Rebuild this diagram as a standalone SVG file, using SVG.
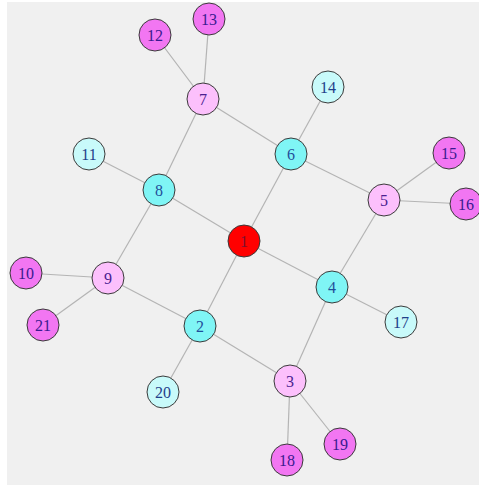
<svg xmlns="http://www.w3.org/2000/svg" width="479" height="485" viewBox="0 0 479 485">
<style>
.e{stroke:#b4b4b4;stroke-width:1.2;fill:none}
circle{stroke:#3a3a3a;stroke-width:1}
text{font-family:"Liberation Serif","Times New Roman",serif;font-size:16px;text-anchor:middle;dominant-baseline:central}
.r circle{fill:#ff0000}.r text{fill:#7a1030}
.c circle{fill:#7ff5f5}.c text{fill:#1f4f9a}
.lc circle{fill:#c8fafa}.lc text{fill:#1f3f8a}
.p circle{fill:#fcc0fc}.p text{fill:#4a2090}
.m circle{fill:#f276f2}.m text{fill:#3a1a90}
</style>
<rect width="479" height="485" fill="#ffffff"/>
<rect x="7" y="2" width="472" height="483" fill="#f0f0f0"/>
<g id="edges">
<line class="e" x1="244" y1="241" x2="159" y2="190"/>
<line class="e" x1="244" y1="241" x2="291" y2="154"/>
<line class="e" x1="244" y1="241" x2="332" y2="287"/>
<line class="e" x1="244" y1="241" x2="200" y2="326"/>
<line class="e" x1="203" y1="99" x2="159" y2="190"/>
<line class="e" x1="203" y1="99" x2="291" y2="154"/>
<line class="e" x1="203" y1="99" x2="155" y2="35"/>
<line class="e" x1="203" y1="99" x2="209" y2="19"/>
<line class="e" x1="159" y1="190" x2="89" y2="154"/>
<line class="e" x1="159" y1="190" x2="108" y2="278"/>
<line class="e" x1="291" y1="154" x2="328" y2="87"/>
<line class="e" x1="291" y1="154" x2="384" y2="200"/>
<line class="e" x1="384" y1="200" x2="449" y2="153"/>
<line class="e" x1="384" y1="200" x2="466" y2="204"/>
<line class="e" x1="384" y1="200" x2="332" y2="287"/>
<line class="e" x1="332" y1="287" x2="401" y2="322"/>
<line class="e" x1="332" y1="287" x2="290" y2="381"/>
<line class="e" x1="290" y1="381" x2="200" y2="326"/>
<line class="e" x1="290" y1="381" x2="287" y2="460"/>
<line class="e" x1="290" y1="381" x2="340" y2="444"/>
<line class="e" x1="108" y1="278" x2="26" y2="273"/>
<line class="e" x1="108" y1="278" x2="43" y2="325"/>
<line class="e" x1="108" y1="278" x2="200" y2="326"/>
<line class="e" x1="200" y1="326" x2="163" y2="392"/>
</g>
<g id="n1" class="r"><circle cx="244" cy="241" r="16"/><text x="244" y="241">1</text></g>
<g id="n2" class="c"><circle cx="200" cy="326" r="16"/><text x="200" y="326">2</text></g>
<g id="n3" class="p"><circle cx="290" cy="381" r="16"/><text x="290" y="381">3</text></g>
<g id="n4" class="c"><circle cx="332" cy="287" r="16"/><text x="332" y="287">4</text></g>
<g id="n5" class="p"><circle cx="384" cy="200" r="16"/><text x="384" y="200">5</text></g>
<g id="n6" class="c"><circle cx="291" cy="154" r="16"/><text x="291" y="154">6</text></g>
<g id="n7" class="p"><circle cx="203" cy="99" r="16"/><text x="203" y="99">7</text></g>
<g id="n8" class="c"><circle cx="159" cy="190" r="16"/><text x="159" y="190">8</text></g>
<g id="n9" class="p"><circle cx="108" cy="278" r="16"/><text x="108" y="278">9</text></g>
<g id="n10" class="m"><circle cx="26" cy="273" r="16"/><text x="26" y="273">10</text></g>
<g id="n11" class="lc"><circle cx="89" cy="154" r="16"/><text x="89" y="154">11</text></g>
<g id="n12" class="m"><circle cx="155" cy="35" r="16"/><text x="155" y="35">12</text></g>
<g id="n13" class="m"><circle cx="209" cy="19" r="16"/><text x="209" y="19">13</text></g>
<g id="n14" class="lc"><circle cx="328" cy="87" r="16"/><text x="328" y="87">14</text></g>
<g id="n15" class="m"><circle cx="449" cy="153" r="16"/><text x="449" y="153">15</text></g>
<g id="n16" class="m"><circle cx="466" cy="204" r="16"/><text x="466" y="204">16</text></g>
<g id="n17" class="lc"><circle cx="401" cy="322" r="16"/><text x="401" y="322">17</text></g>
<g id="n18" class="m"><circle cx="287" cy="460" r="16"/><text x="287" y="460">18</text></g>
<g id="n19" class="m"><circle cx="340" cy="444" r="16"/><text x="340" y="444">19</text></g>
<g id="n20" class="lc"><circle cx="163" cy="392" r="16"/><text x="163" y="392">20</text></g>
<g id="n21" class="m"><circle cx="43" cy="325" r="16"/><text x="43" y="325">21</text></g>
</svg>
